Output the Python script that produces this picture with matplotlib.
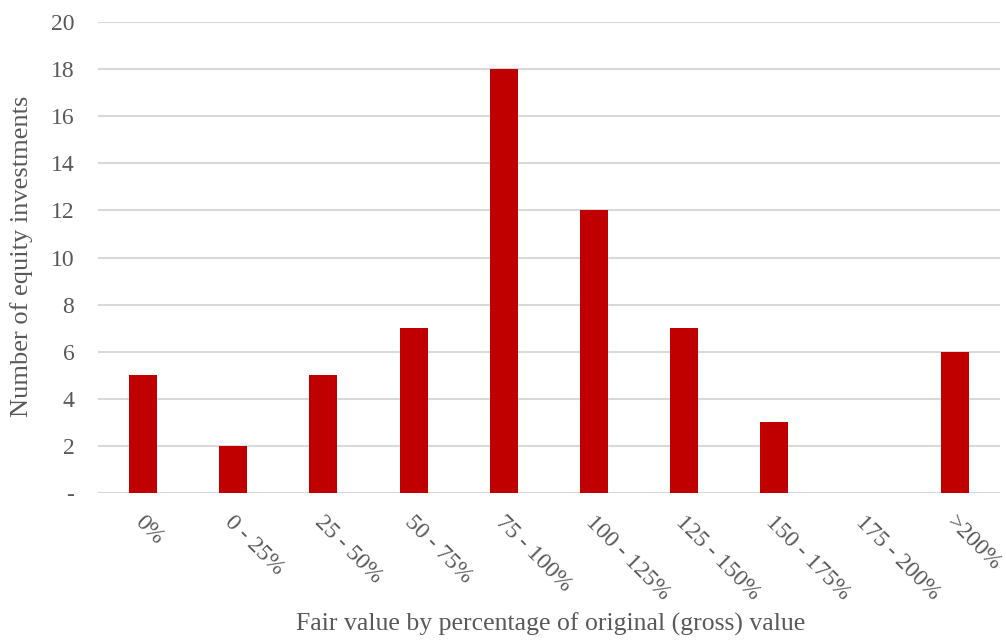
import numpy as np
import matplotlib.pyplot as plt
from matplotlib.ticker import FuncFormatter
from matplotlib.transforms import ScaledTranslation

categories = ["0%", "0 - 25%", "25 - 50%", "50 - 75%", "75 - 100%",
              "100 - 125%", "125 - 150%", "150 - 175%", "175 - 200%", ">200%"]
counts = [5, 2, 5, 7, 18, 12, 7, 3, 0, 6]

plt.rcParams['font.family'] = ['Liberation Serif', 'DejaVu Serif']
grey = '#595959'

fig = plt.figure(figsize=(10.06, 6.4), dpi=100)
ax = fig.add_axes([0.0974, 0.2297, 0.8966, 0.7359])

x = np.arange(len(categories))
ax.bar(x, counts, width=0.31, color='#C00000', zorder=3)

ax.set_xlim(-0.5, len(categories) - 0.5)
ax.set_ylim(0, 20)
ax.set_yticks(np.arange(0, 21, 2))
ax.yaxis.set_major_formatter(FuncFormatter(lambda v, p: '-' if v == 0 else f'{int(v)}'))
ax.grid(axis='y', color='#D9D9D9', linewidth=1.5, zorder=0)

for s in ax.spines.values():
    s.set_visible(False)
ax.tick_params(axis='both', length=0, labelsize=17, colors=grey)
ax.tick_params(axis='y', pad=17)

ax.set_xticks(x)
ax.set_xticklabels(categories, rotation=-45, ha='left', va='top', rotation_mode='anchor')
for lbl in ax.get_xticklabels():
    lbl.set_transform(lbl.get_transform() + ScaledTranslation(2 / 100, -14 / 100, fig.dpi_scale_trans))

# axis titles placed in figure coords so the rotated tick labels don't push them
fig.text(0.547, 0.024, 'Fair value by percentage of original (gross) value',
         fontsize=18.5, color=grey, ha='center', va='center')
fig.text(0.021, 0.60, 'Number of equity investments', fontsize=19, color=grey,
         rotation=90, ha='center', va='center')

fig.savefig('out.png', dpi=100)
